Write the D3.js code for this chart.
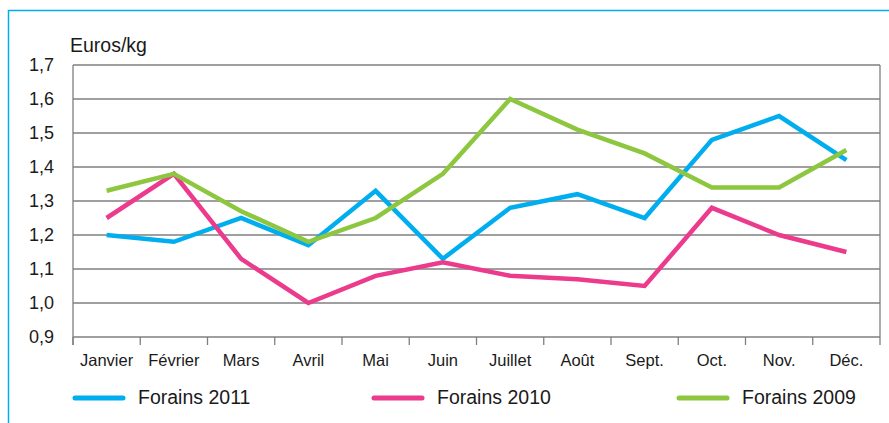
<!DOCTYPE html>
<html>
<head>
<meta charset="utf-8">
<script src="https://cdn.jsdelivr.net/npm/d3@7"></script>
<style>
  body { margin: 0; background: #fff; }
  svg { display: block; }
</style>
</head>
<body>
<script>
var months = ["Janvier", "Février", "Mars", "Avril", "Mai", "Juin", "Juillet", "Août", "Sept.", "Oct.", "Nov.", "Déc."];
var forains2011 = [1.20, 1.18, 1.25, 1.17, 1.33, 1.13, 1.28, 1.32, 1.25, 1.48, 1.55, 1.42];
var forains2010 = [1.25, 1.38, 1.13, 1.00, 1.08, 1.12, 1.08, 1.07, 1.05, 1.28, 1.20, 1.15];
var forains2009 = [1.33, 1.38, 1.27, 1.18, 1.25, 1.38, 1.60, 1.51, 1.44, 1.34, 1.34, 1.45];
var yTicks = [0.9, 1.0, 1.1, 1.2, 1.3, 1.4, 1.5, 1.6, 1.7];

var series = [
  {name: "Forains 2011", values: forains2011, color: "#00aeef"},
  {name: "Forains 2010", values: forains2010, color: "#ec3a8c"},
  {name: "Forains 2009", values: forains2009, color: "#8dc63f"}
];

var W = 889, H = 423;
var plotLeft = 73, plotRight = 880, plotTop = 65, plotBottom = 337;
var font = "'Liberation Sans', Arial, sans-serif";
var textColor = "#1a1a1a";

var svg = d3.select("body").append("svg")
  .attr("width", W)
  .attr("height", H);

// blue frame (left + top edges)
svg.append("path")
  .attr("d", "M8.5," + H + " L8.5,10.5 L" + W + ",10.5")
  .attr("fill", "none")
  .attr("stroke", "#00aeef")
  .attr("stroke-width", 1.5);

var x = d3.scaleBand().domain(months).range([plotLeft, plotRight]);
var y = d3.scaleLinear().domain([0.9, 1.7]).range([plotBottom, plotTop]);

// gridlines
svg.append("g").selectAll("line")
  .data(yTicks)
  .enter().append("line")
  .attr("x1", plotLeft).attr("x2", plotRight)
  .attr("y1", function(d) { return y(d); })
  .attr("y2", function(d) { return y(d); })
  .attr("stroke", "#7f7f7f")
  .attr("stroke-width", 1.3);

// plot frame: left and right vertical lines
svg.append("line")
  .attr("x1", plotLeft).attr("x2", plotLeft).attr("y1", plotTop).attr("y2", plotBottom + 8)
  .attr("stroke", "#7f7f7f").attr("stroke-width", 1.3);
svg.append("line")
  .attr("x1", plotRight).attr("x2", plotRight).attr("y1", plotTop).attr("y2", plotBottom + 8)
  .attr("stroke", "#7f7f7f").attr("stroke-width", 1.3);

// y labels
svg.append("g").selectAll("text")
  .data(yTicks)
  .enter().append("text")
  .attr("x", 54)
  .attr("y", function(d) { return y(d) + 6; })
  .attr("text-anchor", "end")
  .attr("font-family", font)
  .attr("font-size", "18px")
  .attr("fill", textColor)
  .text(function(d) { return d.toFixed(1).replace(".", ","); });

svg.append("text")
  .attr("x", 70).attr("y", 52)
  .attr("font-family", font)
  .attr("font-size", "19.5px")
  .attr("fill", textColor)
  .text("Euros/kg");

// x axis, ticks at category boundaries
var xAxis = svg.append("g")
  .attr("transform", "translate(0," + plotBottom + ")");
xAxis.selectAll("line")
  .data(months)
  .enter().append("line")
  .attr("x1", function(d) { return x(d); })
  .attr("x2", function(d) { return x(d); })
  .attr("y1", 0).attr("y2", 8)
  .attr("stroke", "#7f7f7f").attr("stroke-width", 1.3);
xAxis.selectAll("text")
  .data(months)
  .enter().append("text")
  .attr("x", function(d) { return x(d) + x.bandwidth() / 2; })
  .attr("y", 29)
  .attr("text-anchor", "middle")
  .attr("font-family", font)
  .attr("font-size", "16.5px")
  .attr("fill", textColor)
  .text(function(d) { return d; });

// lines
var line = d3.line()
  .x(function(d, i) { return x(months[i]) + x.bandwidth() / 2; })
  .y(function(d) { return y(d); });

svg.append("g").selectAll("path")
  .data(series)
  .enter().append("path")
  .attr("d", function(s) { return line(s.values); })
  .attr("fill", "none")
  .attr("stroke", function(s) { return s.color; })
  .attr("stroke-width", 4.5)
  .attr("stroke-linejoin", "miter");

// legend
var legendX = [73, 372, 677];
var legend = svg.append("g").selectAll("g")
  .data(series)
  .enter().append("g")
  .attr("transform", function(s, i) { return "translate(" + legendX[i] + ",398)"; });
legend.append("line")
  .attr("x1", 2).attr("x2", 50)
  .attr("y1", 0).attr("y2", 0)
  .attr("stroke", function(s) { return s.color; })
  .attr("stroke-width", 5)
  .attr("stroke-linecap", "round");
legend.append("text")
  .attr("x", 65).attr("y", 6)
  .attr("font-family", font)
  .attr("font-size", "19.5px")
  .attr("fill", textColor)
  .text(function(s) { return s.name; });
</script>
</body>
</html>
